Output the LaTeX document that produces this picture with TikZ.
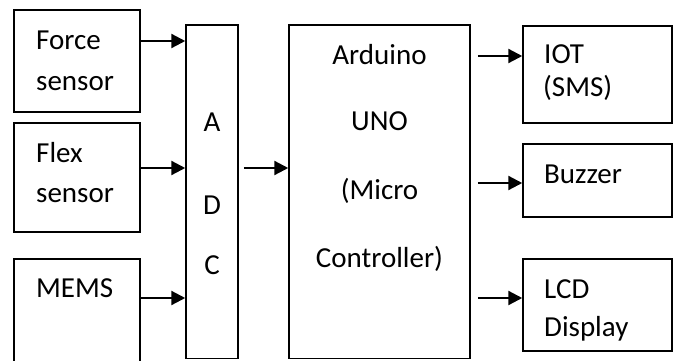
\documentclass[tikz,border=0pt]{standalone}
\usepackage{fontspec}
\setmainfont{Carlito}
\usetikzlibrary{arrows.meta}
\begin{document}
\begin{tikzpicture}[x=1pt,y=-1pt,
  box/.style={draw,line width=1.5pt,rectangle,inner sep=0pt},
  txt/.style={inner sep=0pt,font=\fontsize{29}{34}\selectfont},
  arr/.style={line width=2.3pt,-{Triangle[length=14pt,width=14pt]}}]
\clip (0,0) rectangle (673,360);
\fill[white] (0,0) rectangle (673,360);
% boxes
\node[box,minimum width=126pt,minimum height=102pt] (force) at (77,61) {};
\node[box,minimum width=126pt,minimum height=109pt] (flex) at (77,177.5) {};
\node[box,minimum width=126pt,minimum height=131pt] (mems) at (77,324.5) {};
\node[box,minimum width=52pt,minimum height=333.5pt] (adc) at (212,191.75) {};
\node[box,minimum width=181pt,minimum height=333.5pt] (ard) at (379.5,191.75) {};
\node[box,minimum width=149pt,minimum height=97pt] (iot) at (597.5,74.5) {};
\node[box,minimum width=149pt,minimum height=73pt] (buz) at (597.5,180.5) {};
\node[box,minimum width=149pt,minimum height=92pt] (lcd) at (597.5,305) {};
% texts
\node[txt,anchor=base west] (t1) at (36,49.3) {Force};
\node[txt,anchor=base west] (t2) at (36,90) {sensor};
\node[txt,anchor=base west] (t3) at (36,162.3) {Flex};
\node[txt,anchor=base west] (t4) at (36,202.7) {sensor};
\node[txt,anchor=base west] (t5) at (36,297.7) {MEMS};
\node[txt,anchor=base] (t6) at (212,131.7) {A};
\node[txt,anchor=base] (t7) at (212,214) {D};
\node[txt,anchor=base] (t8) at (212,274) {C};
\node[txt,anchor=base] (t9) at (379.5,64) {Arduino};
\node[txt,anchor=base] (t10) at (379.5,130.7) {UNO};
\node[txt,anchor=base] (t11) at (379.5,199) {(Micro};
\node[txt,anchor=base] (t12) at (379.5,267.5) {Controller)};
\node[txt,anchor=base west] (t13) at (544,63.3) {IOT};
\node[txt,anchor=base west] (t14) at (543,96.7) {(SMS)};
\node[txt,anchor=base west] (t15) at (544,183.3) {Buzzer};
\node[txt,anchor=base west] (t16) at (544,298) {LCD};
\begin{scope}
\clip (520,300) rectangle (673,340.5);
\node[txt,anchor=base west] (t17) at (544,336.7) {Display};
\end{scope}
% arrows
\draw[arr] (force.east |- 0,41) -- (adc.west |- 0,41);
\draw[arr] (flex.east |- 0,168) -- (adc.west |- 0,168);
\draw[arr] (mems.east |- 0,298) -- (adc.west |- 0,298);
\draw[arr] ([xshift=5pt]adc.east |- 0,168) -- (ard.west |- 0,168);
\draw[arr] ([xshift=7pt]ard.east |- 0,56) -- (iot.west |- 0,56);
\draw[arr] ([xshift=7pt]ard.east |- 0,183) -- (buz.west |- 0,183);
\draw[arr] ([xshift=7pt]ard.east |- 0,298) -- (lcd.west |- 0,298);
\end{tikzpicture}
\end{document}
